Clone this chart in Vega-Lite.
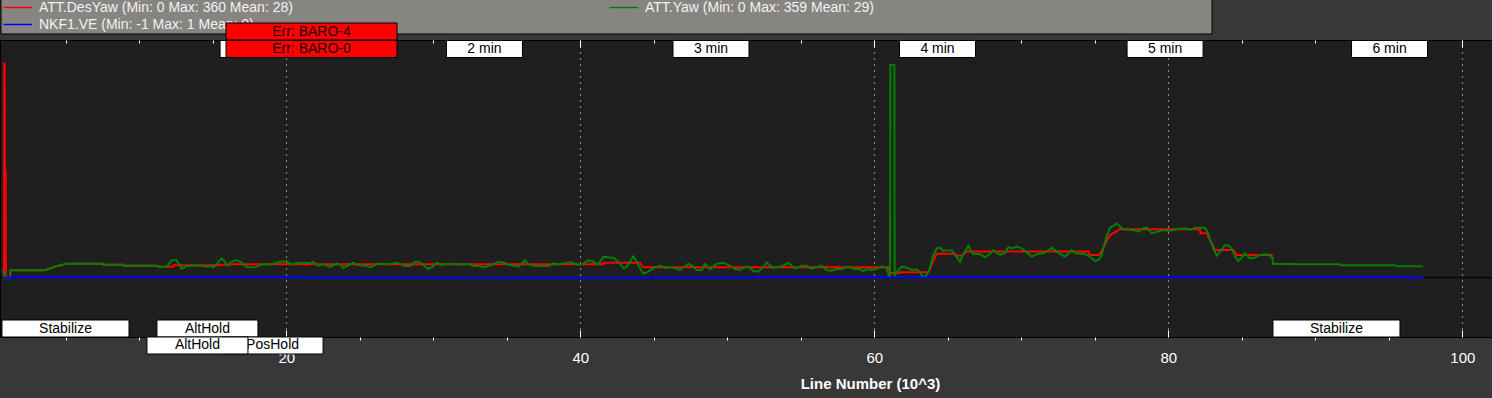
{
  "$schema": "https://vega.github.io/schema/vega-lite/v6.json",
  "autosize": {"type": "pad"},
  "padding": {"left": -3, "top": -2, "right": 0, "bottom": 12},
  "background": "#383838",
  "bounds": "flush",
  "spacing": 0,
  "config": {
    "view": {"fill": "#1f1f1f", "stroke": "#000000", "strokeWidth": 1},
    "concat": {"spacing": 0},
    "font": "Liberation Sans"
  },
  "datasets": {
    "zero": [{"value": 0}],
    "curves": [
      {"series":"ATT.DesYaw","line":0.796,"value":0},
      {"series":"ATT.DesYaw","line":0.807,"value":360},
      {"series":"ATT.DesYaw","line":0.841,"value":360},
      {"series":"ATT.DesYaw","line":0.853,"value":180},
      {"series":"ATT.DesYaw","line":0.909,"value":180},
      {"series":"ATT.DesYaw","line":0.921,"value":0},
      {"series":"ATT.DesYaw","line":1.204,"value":0},
      {"series":"ATT.DesYaw","line":1.227,"value":12.2},
      {"series":"ATT.DesYaw","line":3.585,"value":12.2},
      {"series":"ATT.DesYaw","line":3.812,"value":14.5},
      {"series":"ATT.DesYaw","line":4.039,"value":16.2},
      {"series":"ATT.DesYaw","line":4.266,"value":18.4},
      {"series":"ATT.DesYaw","line":4.492,"value":20.1},
      {"series":"ATT.DesYaw","line":4.719,"value":21.2},
      {"series":"ATT.DesYaw","line":5.059,"value":23.5},
      {"series":"ATT.DesYaw","line":7.508,"value":23.5},
      {"series":"ATT.DesYaw","line":7.531,"value":21.8},
      {"series":"ATT.DesYaw","line":8.914,"value":21.8},
      {"series":"ATT.DesYaw","line":8.937,"value":20.1},
      {"series":"ATT.DesYaw","line":11.227,"value":20.1},
      {"series":"ATT.DesYaw","line":11.25,"value":18.4},
      {"series":"ATT.DesYaw","line":12.316,"value":18.4},
      {"series":"ATT.DesYaw","line":12.339,"value":20.7},
      {"series":"ATT.DesYaw","line":15.49,"value":20.7},
      {"series":"ATT.DesYaw","line":15.513,"value":21.8},
      {"series":"ATT.DesYaw","line":16.17,"value":21.8},
      {"series":"ATT.DesYaw","line":16.193,"value":22.3},
      {"series":"ATT.DesYaw","line":41.568,"value":22.3},
      {"series":"ATT.DesYaw","line":41.59,"value":25.1},
      {"series":"ATT.DesYaw","line":44.062,"value":25.1},
      {"series":"ATT.DesYaw","line":44.175,"value":20.1},
      {"series":"ATT.DesYaw","line":44.289,"value":17.3},
      {"series":"ATT.DesYaw","line":60.957,"value":17.3},
      {"series":"ATT.DesYaw","line":61.07,"value":7.7},
      {"series":"ATT.DesYaw","line":61.75,"value":7.7},
      {"series":"ATT.DesYaw","line":61.773,"value":8.9},
      {"series":"ATT.DesYaw","line":63.678,"value":8.9},
      {"series":"ATT.DesYaw","line":64.245,"value":40.3},
      {"series":"ATT.DesYaw","line":65.492,"value":40.3},
      {"series":"ATT.DesYaw","line":65.605,"value":36.9},
      {"series":"ATT.DesYaw","line":65.945,"value":36.9},
      {"series":"ATT.DesYaw","line":66.285,"value":44},
      {"series":"ATT.DesYaw","line":74.562,"value":44},
      {"series":"ATT.DesYaw","line":74.675,"value":38.1},
      {"series":"ATT.DesYaw","line":75.242,"value":38.1},
      {"series":"ATT.DesYaw","line":75.356,"value":40},
      {"series":"ATT.DesYaw","line":76.036,"value":71.7},
      {"series":"ATT.DesYaw","line":76.716,"value":81.3},
      {"series":"ATT.DesYaw","line":82.158,"value":81.3},
      {"series":"ATT.DesYaw","line":82.181,"value":74.5},
      {"series":"ATT.DesYaw","line":82.612,"value":74.5},
      {"series":"ATT.DesYaw","line":83.065,"value":52.1},
      {"series":"ATT.DesYaw","line":83.178,"value":46.5},
      {"series":"ATT.DesYaw","line":84.425,"value":46.5},
      {"series":"ATT.DesYaw","line":84.652,"value":38.1},
      {"series":"ATT.DesYaw","line":87.034,"value":38.1},
      {"series":"ATT.DesYaw","line":87.125,"value":30},
      {"series":"ATT.Yaw","line":0.637,"value":10},
      {"series":"ATT.Yaw","line":0.796,"value":10},
      {"series":"ATT.Yaw","line":0.819,"value":0},
      {"series":"ATT.Yaw","line":1.204,"value":0},
      {"series":"ATT.Yaw","line":1.227,"value":12.2},
      {"series":"ATT.Yaw","line":3.585,"value":12.2},
      {"series":"ATT.Yaw","line":3.812,"value":14.5},
      {"series":"ATT.Yaw","line":4.039,"value":16.2},
      {"series":"ATT.Yaw","line":4.266,"value":18.4},
      {"series":"ATT.Yaw","line":4.492,"value":20.1},
      {"series":"ATT.Yaw","line":4.719,"value":21.2},
      {"series":"ATT.Yaw","line":5.059,"value":23.5},
      {"series":"ATT.Yaw","line":7.508,"value":23.5},
      {"series":"ATT.Yaw","line":7.531,"value":21.8},
      {"series":"ATT.Yaw","line":8.914,"value":21.8},
      {"series":"ATT.Yaw","line":8.937,"value":20.1},
      {"series":"ATT.Yaw","line":11.227,"value":20.1},
      {"series":"ATT.Yaw","line":11.25,"value":18.4},
      {"series":"ATT.Yaw","line":11.862,"value":18.4},
      {"series":"ATT.Yaw","line":12.043,"value":24},
      {"series":"ATT.Yaw","line":12.202,"value":29.1},
      {"series":"ATT.Yaw","line":12.542,"value":29.1},
      {"series":"ATT.Yaw","line":12.724,"value":21.2},
      {"series":"ATT.Yaw","line":12.883,"value":14.5},
      {"series":"ATT.Yaw","line":13.041,"value":16.7},
      {"series":"ATT.Yaw","line":13.177,"value":20.1},
      {"series":"ATT.Yaw","line":14.243,"value":20.1},
      {"series":"ATT.Yaw","line":14.583,"value":18.4},
      {"series":"ATT.Yaw","line":14.81,"value":20.1},
      {"series":"ATT.Yaw","line":15.037,"value":17.3},
      {"series":"ATT.Yaw","line":15.309,"value":24},
      {"series":"ATT.Yaw","line":15.604,"value":32.4},
      {"series":"ATT.Yaw","line":15.83,"value":26.8},
      {"series":"ATT.Yaw","line":15.989,"value":20.1},
      {"series":"ATT.Yaw","line":16.216,"value":25.7},
      {"series":"ATT.Yaw","line":16.511,"value":29.1},
      {"series":"ATT.Yaw","line":16.737,"value":27.9},
      {"series":"ATT.Yaw","line":16.964,"value":25.1},
      {"series":"ATT.Yaw","line":17.304,"value":17.3},
      {"series":"ATT.Yaw","line":17.871,"value":17.3},
      {"series":"ATT.Yaw","line":18.166,"value":20.1},
      {"series":"ATT.Yaw","line":18.438,"value":22.9},
      {"series":"ATT.Yaw","line":18.665,"value":21.8},
      {"series":"ATT.Yaw","line":19.118,"value":22.9},
      {"series":"ATT.Yaw","line":19.572,"value":26.8},
      {"series":"ATT.Yaw","line":20.025,"value":27.4},
      {"series":"ATT.Yaw","line":20.366,"value":22.3},
      {"series":"ATT.Yaw","line":20.706,"value":25.1},
      {"series":"ATT.Yaw","line":21.046,"value":24.6},
      {"series":"ATT.Yaw","line":21.613,"value":24.6},
      {"series":"ATT.Yaw","line":21.794,"value":26.3},
      {"series":"ATT.Yaw","line":22.18,"value":20.1},
      {"series":"ATT.Yaw","line":22.52,"value":22.3},
      {"series":"ATT.Yaw","line":22.973,"value":17.9},
      {"series":"ATT.Yaw","line":23.427,"value":23.5},
      {"series":"ATT.Yaw","line":23.654,"value":22.3},
      {"series":"ATT.Yaw","line":23.88,"value":16.2},
      {"series":"ATT.Yaw","line":24.22,"value":20.7},
      {"series":"ATT.Yaw","line":24.56,"value":25.1},
      {"series":"ATT.Yaw","line":24.901,"value":20.7},
      {"series":"ATT.Yaw","line":25.468,"value":20.1},
      {"series":"ATT.Yaw","line":25.694,"value":17.3},
      {"series":"ATT.Yaw","line":26.034,"value":21.2},
      {"series":"ATT.Yaw","line":26.148,"value":23.5},
      {"series":"ATT.Yaw","line":26.601,"value":23.5},
      {"series":"ATT.Yaw","line":26.942,"value":22.3},
      {"series":"ATT.Yaw","line":27.168,"value":23.5},
      {"series":"ATT.Yaw","line":27.508,"value":25.1},
      {"series":"ATT.Yaw","line":27.849,"value":22.3},
      {"series":"ATT.Yaw","line":28.075,"value":19.5},
      {"series":"ATT.Yaw","line":28.415,"value":19.5},
      {"series":"ATT.Yaw","line":28.756,"value":26.8},
      {"series":"ATT.Yaw","line":29.05,"value":26.8},
      {"series":"ATT.Yaw","line":29.323,"value":21.2},
      {"series":"ATT.Yaw","line":29.663,"value":14.5},
      {"series":"ATT.Yaw","line":29.958,"value":18.4},
      {"series":"ATT.Yaw","line":30.23,"value":25.1},
      {"series":"ATT.Yaw","line":30.57,"value":21.2},
      {"series":"ATT.Yaw","line":31.023,"value":23.5},
      {"series":"ATT.Yaw","line":31.25,"value":22.3},
      {"series":"ATT.Yaw","line":32.497,"value":22.3},
      {"series":"ATT.Yaw","line":32.724,"value":19.5},
      {"series":"ATT.Yaw","line":32.951,"value":19.5},
      {"series":"ATT.Yaw","line":33.518,"value":17.9},
      {"series":"ATT.Yaw","line":33.858,"value":20.1},
      {"series":"ATT.Yaw","line":34.425,"value":26.8},
      {"series":"ATT.Yaw","line":34.765,"value":25.1},
      {"series":"ATT.Yaw","line":35.218,"value":21.2},
      {"series":"ATT.Yaw","line":35.785,"value":18.4},
      {"series":"ATT.Yaw","line":36.239,"value":29.1},
      {"series":"ATT.Yaw","line":36.465,"value":22.3},
      {"series":"ATT.Yaw","line":36.919,"value":19.5},
      {"series":"ATT.Yaw","line":37.826,"value":19.5},
      {"series":"ATT.Yaw","line":38.121,"value":23.5},
      {"series":"ATT.Yaw","line":38.506,"value":22.3},
      {"series":"ATT.Yaw","line":39.073,"value":25.1},
      {"series":"ATT.Yaw","line":39.413,"value":25.7},
      {"series":"ATT.Yaw","line":39.867,"value":21.2},
      {"series":"ATT.Yaw","line":40.207,"value":23.5},
      {"series":"ATT.Yaw","line":40.547,"value":29.1},
      {"series":"ATT.Yaw","line":40.887,"value":26.8},
      {"series":"ATT.Yaw","line":41.227,"value":22.3},
      {"series":"ATT.Yaw","line":41.568,"value":34.7},
      {"series":"ATT.Yaw","line":41.794,"value":35.2},
      {"series":"ATT.Yaw","line":42.021,"value":33.6},
      {"series":"ATT.Yaw","line":42.248,"value":33.6},
      {"series":"ATT.Yaw","line":42.588,"value":26.8},
      {"series":"ATT.Yaw","line":42.928,"value":15.6},
      {"series":"ATT.Yaw","line":43.155,"value":18.4},
      {"series":"ATT.Yaw","line":43.608,"value":35.8},
      {"series":"ATT.Yaw","line":43.835,"value":26.8},
      {"series":"ATT.Yaw","line":44.062,"value":15.6},
      {"series":"ATT.Yaw","line":44.289,"value":6.6},
      {"series":"ATT.Yaw","line":44.629,"value":10},
      {"series":"ATT.Yaw","line":45.082,"value":17.3},
      {"series":"ATT.Yaw","line":45.422,"value":20.1},
      {"series":"ATT.Yaw","line":45.763,"value":16.2},
      {"series":"ATT.Yaw","line":46.103,"value":17.3},
      {"series":"ATT.Yaw","line":46.443,"value":15.6},
      {"series":"ATT.Yaw","line":46.783,"value":12.8},
      {"series":"ATT.Yaw","line":47.35,"value":23.5},
      {"series":"ATT.Yaw","line":47.69,"value":18.4},
      {"series":"ATT.Yaw","line":47.917,"value":12.8},
      {"series":"ATT.Yaw","line":48.257,"value":12.8},
      {"series":"ATT.Yaw","line":48.484,"value":22.9},
      {"series":"ATT.Yaw","line":48.824,"value":13.9},
      {"series":"ATT.Yaw","line":49.278,"value":23.5},
      {"series":"ATT.Yaw","line":49.731,"value":25.1},
      {"series":"ATT.Yaw","line":50.071,"value":21.2},
      {"series":"ATT.Yaw","line":50.524,"value":14.5},
      {"series":"ATT.Yaw","line":50.865,"value":12.8},
      {"series":"ATT.Yaw","line":51.091,"value":16.7},
      {"series":"ATT.Yaw","line":51.431,"value":18.4},
      {"series":"ATT.Yaw","line":51.772,"value":11.1},
      {"series":"ATT.Yaw","line":52.112,"value":10},
      {"series":"ATT.Yaw","line":52.452,"value":17.9},
      {"series":"ATT.Yaw","line":52.679,"value":25.7},
      {"series":"ATT.Yaw","line":52.906,"value":20.1},
      {"series":"ATT.Yaw","line":53.133,"value":16.7},
      {"series":"ATT.Yaw","line":53.586,"value":18.4},
      {"series":"ATT.Yaw","line":53.926,"value":21.2},
      {"series":"ATT.Yaw","line":54.153,"value":25.1},
      {"series":"ATT.Yaw","line":54.493,"value":17.3},
      {"series":"ATT.Yaw","line":54.72,"value":15.6},
      {"series":"ATT.Yaw","line":55.06,"value":20.1},
      {"series":"ATT.Yaw","line":55.4,"value":20.1},
      {"series":"ATT.Yaw","line":55.74,"value":15.6},
      {"series":"ATT.Yaw","line":56.081,"value":17.3},
      {"series":"ATT.Yaw","line":56.421,"value":20.1},
      {"series":"ATT.Yaw","line":56.761,"value":12.8},
      {"series":"ATT.Yaw","line":57.101,"value":11.7},
      {"series":"ATT.Yaw","line":57.441,"value":14.5},
      {"series":"ATT.Yaw","line":57.782,"value":14.5},
      {"series":"ATT.Yaw","line":58.235,"value":18.4},
      {"series":"ATT.Yaw","line":58.575,"value":14.5},
      {"series":"ATT.Yaw","line":58.916,"value":15.1},
      {"series":"ATT.Yaw","line":59.256,"value":11.1},
      {"series":"ATT.Yaw","line":59.482,"value":14.5},
      {"series":"ATT.Yaw","line":59.823,"value":12.8},
      {"series":"ATT.Yaw","line":60.05,"value":13.9},
      {"series":"ATT.Yaw","line":60.503,"value":18.4},
      {"series":"ATT.Yaw","line":60.843,"value":15.6},
      {"series":"ATT.Yaw","line":61.002,"value":2.7},
      {"series":"ATT.Yaw","line":61.07,"value":1.6},
      {"series":"ATT.Yaw","line":61.093,"value":358},
      {"series":"ATT.Yaw","line":61.365,"value":358},
      {"series":"ATT.Yaw","line":61.387,"value":2},
      {"series":"ATT.Yaw","line":61.523,"value":8.9},
      {"series":"ATT.Yaw","line":61.863,"value":18.4},
      {"series":"ATT.Yaw","line":62.203,"value":16.7},
      {"series":"ATT.Yaw","line":62.544,"value":12.8},
      {"series":"ATT.Yaw","line":62.884,"value":13.9},
      {"series":"ATT.Yaw","line":63.111,"value":8.9},
      {"series":"ATT.Yaw","line":63.292,"value":1.6},
      {"series":"ATT.Yaw","line":63.519,"value":2.7},
      {"series":"ATT.Yaw","line":63.746,"value":12.8},
      {"series":"ATT.Yaw","line":63.972,"value":35.2},
      {"series":"ATT.Yaw","line":64.245,"value":49.3},
      {"series":"ATT.Yaw","line":64.471,"value":50.4},
      {"series":"ATT.Yaw","line":64.698,"value":44.8},
      {"series":"ATT.Yaw","line":65.038,"value":45.9},
      {"series":"ATT.Yaw","line":65.265,"value":45.9},
      {"series":"ATT.Yaw","line":65.492,"value":38.1},
      {"series":"ATT.Yaw","line":65.832,"value":26.8},
      {"series":"ATT.Yaw","line":66.059,"value":39.2},
      {"series":"ATT.Yaw","line":66.399,"value":53.8},
      {"series":"ATT.Yaw","line":66.626,"value":43.7},
      {"series":"ATT.Yaw","line":66.739,"value":39.7},
      {"series":"ATT.Yaw","line":67.193,"value":39.7},
      {"series":"ATT.Yaw","line":67.533,"value":34.1},
      {"series":"ATT.Yaw","line":67.76,"value":38.1},
      {"series":"ATT.Yaw","line":68.1,"value":45.9},
      {"series":"ATT.Yaw","line":68.552,"value":38.1},
      {"series":"ATT.Yaw","line":68.893,"value":42},
      {"series":"ATT.Yaw","line":69.12,"value":51.5},
      {"series":"ATT.Yaw","line":69.346,"value":49.3},
      {"series":"ATT.Yaw","line":69.686,"value":52.1},
      {"series":"ATT.Yaw","line":70.027,"value":49.3},
      {"series":"ATT.Yaw","line":70.367,"value":42.5},
      {"series":"ATT.Yaw","line":70.707,"value":35.2},
      {"series":"ATT.Yaw","line":71.047,"value":39.2},
      {"series":"ATT.Yaw","line":71.501,"value":40.9},
      {"series":"ATT.Yaw","line":71.841,"value":45.9},
      {"series":"ATT.Yaw","line":72.068,"value":50.4},
      {"series":"ATT.Yaw","line":72.408,"value":43.7},
      {"series":"ATT.Yaw","line":72.749,"value":38.1},
      {"series":"ATT.Yaw","line":72.975,"value":35.2},
      {"series":"ATT.Yaw","line":73.429,"value":45.9},
      {"series":"ATT.Yaw","line":73.769,"value":40.3},
      {"series":"ATT.Yaw","line":74.221,"value":40.3},
      {"series":"ATT.Yaw","line":74.562,"value":36.9},
      {"series":"ATT.Yaw","line":75.015,"value":28},
      {"series":"ATT.Yaw","line":75.242,"value":29.6},
      {"series":"ATT.Yaw","line":75.469,"value":38.1},
      {"series":"ATT.Yaw","line":75.696,"value":60.5},
      {"series":"ATT.Yaw","line":75.809,"value":70},
      {"series":"ATT.Yaw","line":76.036,"value":84.1},
      {"series":"ATT.Yaw","line":76.262,"value":86.9},
      {"series":"ATT.Yaw","line":76.489,"value":91.4},
      {"series":"ATT.Yaw","line":76.716,"value":85.8},
      {"series":"ATT.Yaw","line":76.942,"value":81.3},
      {"series":"ATT.Yaw","line":77.622,"value":80.1},
      {"series":"ATT.Yaw","line":77.963,"value":77.3},
      {"series":"ATT.Yaw","line":78.303,"value":83},
      {"series":"ATT.Yaw","line":78.53,"value":84.1},
      {"series":"ATT.Yaw","line":78.87,"value":74.5},
      {"series":"ATT.Yaw","line":79.21,"value":77.3},
      {"series":"ATT.Yaw","line":79.664,"value":80.1},
      {"series":"ATT.Yaw","line":80.004,"value":78.5},
      {"series":"ATT.Yaw","line":80.571,"value":81.3},
      {"series":"ATT.Yaw","line":81.138,"value":83},
      {"series":"ATT.Yaw","line":81.478,"value":80.1},
      {"series":"ATT.Yaw","line":81.818,"value":84.1},
      {"series":"ATT.Yaw","line":82.498,"value":84.1},
      {"series":"ATT.Yaw","line":82.725,"value":74.5},
      {"series":"ATT.Yaw","line":82.838,"value":63.3},
      {"series":"ATT.Yaw","line":83.065,"value":49.3},
      {"series":"ATT.Yaw","line":83.292,"value":36.9},
      {"series":"ATT.Yaw","line":83.518,"value":43.7},
      {"series":"ATT.Yaw","line":83.859,"value":54.9},
      {"series":"ATT.Yaw","line":84.085,"value":53.8},
      {"series":"ATT.Yaw","line":84.312,"value":49.3},
      {"series":"ATT.Yaw","line":84.539,"value":35.2},
      {"series":"ATT.Yaw","line":84.766,"value":28},
      {"series":"ATT.Yaw","line":84.993,"value":33.6},
      {"series":"ATT.Yaw","line":85.219,"value":40.9},
      {"series":"ATT.Yaw","line":85.559,"value":32.4},
      {"series":"ATT.Yaw","line":85.9,"value":33.6},
      {"series":"ATT.Yaw","line":86.24,"value":38.1},
      {"series":"ATT.Yaw","line":86.694,"value":39.2},
      {"series":"ATT.Yaw","line":87.034,"value":35.2},
      {"series":"ATT.Yaw","line":87.147,"value":22.9},
      {"series":"ATT.Yaw","line":88.621,"value":22.9},
      {"series":"ATT.Yaw","line":88.666,"value":22.3},
      {"series":"ATT.Yaw","line":91.682,"value":22.3},
      {"series":"ATT.Yaw","line":91.727,"value":20.7},
      {"series":"ATT.Yaw","line":95.423,"value":20.7},
      {"series":"ATT.Yaw","line":95.469,"value":19},
      {"series":"ATT.Yaw","line":97.305,"value":19},
      {"series":"NKF1.VE","line":0.796,"value":0},
      {"series":"NKF1.VE","line":20,"value":0.1},
      {"series":"NKF1.VE","line":40,"value":-0.1},
      {"series":"NKF1.VE","line":60,"value":0.1},
      {"series":"NKF1.VE","line":80,"value":0},
      {"series":"NKF1.VE","line":97.305,"value":0}
    ],
    "minutes": [
      {"label":"1 min","line":18.08},
      {"label":"2 min","line":33.48},
      {"label":"3 min","line":48.89},
      {"label":"4 min","line":64.3},
      {"label":"5 min","line":79.78},
      {"label":"6 min","line":95.05}
    ],
    "errors": [
      {"label":"Err: BARO-4","line":15.9,"row":2},
      {"label":"Err: BARO-0","line":15.9,"row":1}
    ],
    "modes": [
      {"mode":"Stabilize","line":0.66,"row":1},
      {"mode":"AltHold","line":11.2,"row":1},
      {"mode":"Stabilize","line":87.12,"row":1},
      {"mode":"PosHold","line":15.63,"row":2},
      {"mode":"AltHold","line":10.52,"row":2}
    ]
  },
  "resolve": {"scale": {"color": "independent"}, "legend": {"color": "independent"}},
  "vconcat": [
    {
      "width": 1492,
      "height": 1,
      "data": {"name": "curves"},
      "mark": {"type": "point", "opacity": 0},
      "encoding": {
        "color": {
          "field": "series", "type": "nominal",
          "scale": {"domain": ["ATT.DesYaw", "NKF1.VE", "ATT.Yaw"], "range": ["#ff0000", "#0000ff", "#008000"]},
          "legend": {
            "orient": "none",
            "legendX": 0.5,
            "legendY": -40.5,
            "columns": 2,
            "direction": "vertical",
            "columnPadding": 313,
            "rowPadding": 3,
            "padding": 2,
            "fillColor": "#878582",
            "strokeColor": "#000000",
            "symbolType": "M-1.2,0H4.5",
            "symbolSize": 100,
            "symbolStrokeWidth": 1.5,
            "symbolOpacity": 1,
            "symbolFillColor": "transparent",
            "labelOffset": 22.5,
            "labelFont": "Liberation Sans",
            "labelFontSize": 14,
            "labelColor": "#f2f2f2",
            "labelLimit": 500,
            "labelExpr": "datum.label == 'ATT.DesYaw' ? 'ATT.DesYaw (Min: 0 Max: 360 Mean: 28)' : datum.label == 'ATT.Yaw' ? 'ATT.Yaw (Min: 0 Max: 359 Mean: 29)' : 'NKF1.VE (Min: -1 Max: 1 Mean: 0)'",
            "title": " ",
            "titleOrient": "right",
            "titlePadding": 335
          }
        }
      }
    },
    {
      "width": 1492,
      "height": 297,
      "resolve": {"axis": {"x": "independent"}},
      "layer": [
        {
          "data": {"name": "zero"},
          "mark": {"type": "rule", "color": "#000000", "strokeWidth": 1},
          "encoding": {
            "y": {"field": "value", "type": "quantitative", "axis": null, "scale": {"domain": [-100, 400], "nice": false, "zero": false}}
          }
        },
        {
          "data": {"name": "curves"},
          "mark": {"type": "line", "interpolate": "linear"},
          "encoding": {
            "x": {
              "field": "line", "type": "quantitative",
              "scale": {"domain": [0.524, 102.02], "nice": false, "zero": false},
              "axis": {
                "orient": "bottom",
                "values": [5,10,15,20,25,30,35,40,45,50,55,60,65,70,75,80,85,90,95,100],
                "format": "d",
                "labelExpr": "datum.value % 20 === 0 ? datum.label : ''",
                "labelOverlap": false,
                "domain": false,
                "grid": true,
                "gridColor": "#ffffff",
                "gridDash": [1, 5],
                "gridWidth": 1,
                "gridOpacity": {"condition": {"test": "datum.value % 20 === 0", "value": 1}, "value": 0},
                "tickColor": "#ffffff",
                "tickWidth": 1,
                "tickSize": {"condition": {"test": "datum.value % 20 === 0", "value": -7}, "value": 3},
                "labelColor": "#ffffff",
                "labelFont": "Liberation Sans",
                "labelFontSize": 15,
                "labelPadding": 20,
                "title": "Line Number (10^3)",
                "titleColor": "#ffffff",
                "titleFont": "Liberation Sans",
                "titleFontSize": 15,
                "titleFontWeight": "bold",
                "titleX": 870,
                "titleY": 46,
                "titleBaseline": "middle"
              }
            },
            "y": {"field": "value", "type": "quantitative", "axis": null},
            "strokeWidth": {
              "field": "series", "type": "nominal", "legend": null,
              "scale": {"domain": ["ATT.DesYaw", "NKF1.VE", "ATT.Yaw"], "range": [2, 2, 1.5]}
            },
            "color": {
              "field": "series", "type": "nominal", "legend": null,
              "scale": {"domain": ["ATT.DesYaw", "NKF1.VE", "ATT.Yaw"], "range": ["#ff0000", "#0000ff", "#008000"]}
            }
          }
        },
        {
          "data": {"name": "minutes"},
          "mark": {"type": "point", "shape": "M-38,-8.5H38V8.5H-38Z", "size": 4, "filled": true, "fill": "#ffffff", "stroke": "#000000", "strokeWidth": 1, "opacity": 1},
          "encoding": {
            "x": {
              "field": "line", "type": "quantitative",
              "axis": {
                "orient": "top",
                "values": [5,10,15,20,25,30,35,40,45,50,55,60,65,70,75,80,85,90,95,100],
                "labels": false,
                "domain": false,
                "grid": false,
                "tickColor": "#ffffff",
                "tickWidth": 1,
                "tickSize": {"condition": {"test": "datum.value % 20 === 0", "value": -7}, "value": -3},
                "title": null
              }
            },
            "y": {"datum": 384.85, "type": "quantitative"}
          }
        },
        {
          "data": {"name": "minutes"},
          "mark": {"type": "text", "font": "Liberation Sans", "fontSize": 14, "color": "#000000", "align": "center", "baseline": "middle"},
          "encoding": {
            "x": {"field": "line", "type": "quantitative", "axis": null},
            "y": {"datum": 384.85, "type": "quantitative"},
            "text": {"field": "label"}
          }
        },
        {
          "data": {"name": "errors"},
          "transform": [{"filter": "datum.row == 2"}],
          "mark": {"type": "point", "shape": "M0,-8.5H171V8.5H0Z", "size": 4, "filled": true, "fill": "#ff0000", "stroke": "#000000", "strokeWidth": 1, "opacity": 1},
          "encoding": {
            "x": {"field": "line", "type": "quantitative", "axis": null},
            "y": {"datum": 414.3, "type": "quantitative"}
          }
        },
        {
          "data": {"name": "errors"},
          "transform": [{"filter": "datum.row == 2"}],
          "mark": {"type": "text", "font": "Liberation Sans", "fontSize": 14, "color": "#1a0000", "align": "center", "baseline": "middle", "dx": 85.5},
          "encoding": {
            "x": {"field": "line", "type": "quantitative", "axis": null},
            "y": {"datum": 414.3, "type": "quantitative"},
            "text": {"field": "label"}
          }
        },
        {
          "data": {"name": "errors"},
          "transform": [{"filter": "datum.row == 1"}],
          "mark": {"type": "point", "shape": "M0,-8.5H171V8.5H0Z", "size": 4, "filled": true, "fill": "#ff0000", "stroke": "#000000", "strokeWidth": 1, "opacity": 1},
          "encoding": {
            "x": {"field": "line", "type": "quantitative", "axis": null},
            "y": {"datum": 384.85, "type": "quantitative"}
          }
        },
        {
          "data": {"name": "errors"},
          "transform": [{"filter": "datum.row == 1"}],
          "mark": {"type": "text", "font": "Liberation Sans", "fontSize": 14, "color": "#1a0000", "align": "center", "baseline": "middle", "dx": 85.5},
          "encoding": {
            "x": {"field": "line", "type": "quantitative", "axis": null},
            "y": {"datum": 384.85, "type": "quantitative"},
            "text": {"field": "label"}
          }
        },
        {
          "data": {"name": "modes"},
          "transform": [{"filter": "datum.row == 1"}],
          "mark": {"type": "point", "size": 4, "filled": true, "fill": "#ffffff", "stroke": "#000000", "strokeWidth": 1, "opacity": 1},
          "encoding": {
            "x": {"field": "line", "type": "quantitative", "axis": null},
            "y": {"datum": -85.7, "type": "quantitative"},
            "shape": {"field": "mode", "type": "nominal", "legend": null,
              "scale": {"domain": ["Stabilize", "AltHold", "PosHold"], "range": ["M0,-8.5H127V8.5H0Z", "M0,-8.5H101V8.5H0Z", "M0,-8.5H101V8.5H0Z"]}}
          }
        },
        {
          "data": {"name": "modes"},
          "transform": [{"filter": "datum.row == 1 && datum.mode == 'Stabilize'"}],
          "mark": {"type": "text", "font": "Liberation Sans", "fontSize": 14, "color": "#000000", "align": "center", "baseline": "middle", "dx": 63.5},
          "encoding": {
            "x": {"field": "line", "type": "quantitative", "axis": null},
            "y": {"datum": -85.7, "type": "quantitative"},
            "text": {"field": "mode"}
          }
        },
        {
          "data": {"name": "modes"},
          "transform": [{"filter": "datum.row == 1 && datum.mode == 'AltHold'"}],
          "mark": {"type": "text", "font": "Liberation Sans", "fontSize": 14, "color": "#000000", "align": "center", "baseline": "middle", "dx": 50.5},
          "encoding": {
            "x": {"field": "line", "type": "quantitative", "axis": null},
            "y": {"datum": -85.7, "type": "quantitative"},
            "text": {"field": "mode"}
          }
        },
        {
          "data": {"name": "modes"},
          "transform": [{"filter": "datum.row == 2 && datum.mode == 'PosHold'"}],
          "mark": {"type": "point", "size": 4, "filled": true, "fill": "#ffffff", "stroke": "#000000", "strokeWidth": 1, "opacity": 1},
          "encoding": {
            "x": {"field": "line", "type": "quantitative", "axis": null},
            "y": {"datum": -114.3, "type": "quantitative"},
            "shape": {"field": "mode", "type": "nominal", "legend": null}
          }
        },
        {
          "data": {"name": "modes"},
          "transform": [{"filter": "datum.row == 2 && datum.mode == 'PosHold'"}],
          "mark": {"type": "text", "font": "Liberation Sans", "fontSize": 14, "color": "#000000", "align": "center", "baseline": "middle", "dx": 50.5},
          "encoding": {
            "x": {"field": "line", "type": "quantitative", "axis": null},
            "y": {"datum": -114.3, "type": "quantitative"},
            "text": {"field": "mode"}
          }
        },
        {
          "data": {"name": "modes"},
          "transform": [{"filter": "datum.row == 2 && datum.mode == 'AltHold'"}],
          "mark": {"type": "point", "size": 4, "filled": true, "fill": "#ffffff", "stroke": "#000000", "strokeWidth": 1, "opacity": 1},
          "encoding": {
            "x": {"field": "line", "type": "quantitative", "axis": null},
            "y": {"datum": -114.3, "type": "quantitative"},
            "shape": {"field": "mode", "type": "nominal", "legend": null}
          }
        },
        {
          "data": {"name": "modes"},
          "transform": [{"filter": "datum.row == 2 && datum.mode == 'AltHold'"}],
          "mark": {"type": "text", "font": "Liberation Sans", "fontSize": 14, "color": "#000000", "align": "center", "baseline": "middle", "dx": 50.5},
          "encoding": {
            "x": {"field": "line", "type": "quantitative", "axis": null},
            "y": {"datum": -114.3, "type": "quantitative"},
            "text": {"field": "mode"}
          }
        }
      ]
    }
  ]
}
